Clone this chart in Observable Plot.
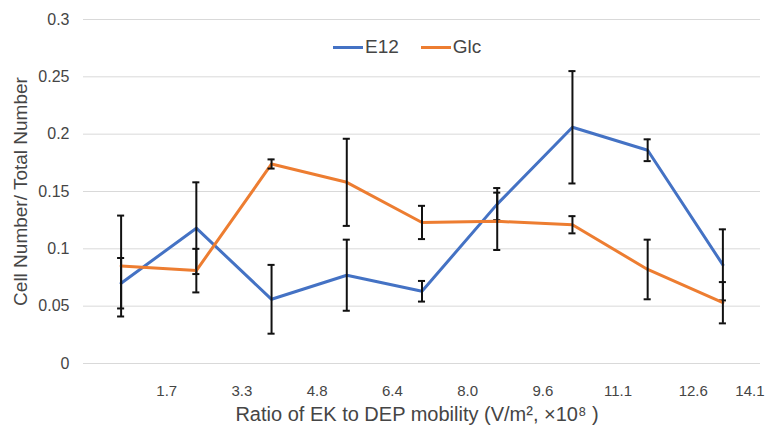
<!DOCTYPE html>
<html>
<head>
<meta charset="utf-8">
<script src="https://cdn.jsdelivr.net/npm/d3@7"></script>
<script src="https://cdn.jsdelivr.net/npm/@observablehq/plot@0.6"></script>
<style>
  html, body { margin: 0; padding: 0; background: #fff; }
  body { font-family: "Liberation Sans", Arial, sans-serif; }
  #wrap { position: relative; width: 776px; height: 433px; overflow: hidden; }
  #legend { position: absolute; top: 36px; left: 333px; display: flex; align-items: center;
            font-size: 19px; color: #454545; line-height: 22px; }
  .item { display: flex; align-items: center; margin-right: 22px; }
  .sw { width: 30px; height: 3px; margin-right: 2px; }
</style>
</head>
<body>
<div id="wrap"><div id="legend"></div></div>
<script>
// Tick labels (upper edge of each bin)
const binLabels = ["1.7", "3.3", "4.8", "6.4", "8.0", "9.6", "11.1", "12.6", "14.1"];
const seriesNames = ["E12", "Glc"];
const seriesColors = ["#4472C4", "#ED7D31"];
const e12Values = [0.070, 0.118, 0.056, 0.077, 0.063, 0.139, 0.206, 0.186, 0.086];
const e12Errors = [0.022, 0.040, 0.030, 0.031, 0.009, 0.014, 0.049, 0.0095, 0.031];
const glcValues = [0.085, 0.081, 0.174, 0.158, 0.123, 0.124, 0.121, 0.082, 0.053];
const glcErrors = [0.044, 0.019, 0.004, 0.038, 0.0145, 0.025, 0.0075, 0.026, 0.018];
const yTicks = [0, 0.05, 0.1, 0.15, 0.2, 0.25, 0.3];
const xTitle = "Ratio of EK to DEP mobility (V/m\u00B2, \u00D710\u2078 )";
const yTitle = "Cell Number/ Total Number";

const seriesData = [
  {name: seriesNames[0], values: e12Values, errors: e12Errors},
  {name: seriesNames[1], values: glcValues, errors: glcErrors}
];
const rows = seriesData.flatMap(s => s.values.map((v, i) => ({
  series: s.name, i, v, lo: v - s.errors[i], hi: v + s.errors[i]
})));

const textColor = "#454545";
const capHalf = 0.047;
const n = binLabels.length;
const tickPos = binLabels.map((_, i) => i + 0.5);

const seriesMarks = seriesNames.flatMap(name => {
  const d = rows.filter(r => r.series === name);
  return [
    Plot.line(d, {x: "i", y: "v", stroke: "series", strokeWidth: 3, strokeLinejoin: "round"}),
    Plot.ruleX(d, {x: "i", y1: "lo", y2: "hi", stroke: "#111", strokeWidth: 2}),
    Plot.ruleY(d, {y: "lo", x1: r => r.i - capHalf, x2: r => r.i + capHalf, stroke: "#111", strokeWidth: 2}),
    Plot.ruleY(d, {y: "hi", x1: r => r.i - capHalf, x2: r => r.i + capHalf, stroke: "#111", strokeWidth: 2})
  ];
});

const chart = Plot.plot({
  width: 776,
  height: 433,
  marginLeft: 83,
  marginRight: 16,
  marginTop: 19,
  marginBottom: 70,
  style: {fontFamily: '"Liberation Sans", Arial, sans-serif', background: "#fff"},
  x: {type: "linear", domain: [-0.5, n - 0.5]},
  y: {domain: [0, 0.3]},
  color: {domain: seriesNames, range: seriesColors},
  marks: [
    Plot.gridY(yTicks, {stroke: "#d9d9d9", strokeOpacity: 1, strokeWidth: 1}),
    Plot.axisY({ticks: yTicks, tickSize: 0, tickPadding: 14, fontSize: 16, fill: textColor,
                tickFormat: d => d === 0 ? "0" : String(+d.toFixed(2)), label: null}),
    Plot.axisX({ticks: tickPos.slice(0, n - 1), tickSize: 0, tickPadding: 22, fontSize: 15, fill: textColor,
                dx: 8, tickFormat: d => binLabels[Math.round(d - 0.5)], label: null}),
    Plot.axisX({ticks: tickPos.slice(n - 1), tickSize: 0, tickPadding: 22, fontSize: 15, fill: textColor,
                dx: 4, textAnchor: "end", tickFormat: d => binLabels[Math.round(d - 0.5)], label: null}),
    ...seriesMarks,
    // Titles
    Plot.text([xTitle], {frameAnchor: "bottom", dx: -5, dy: 57, fontSize: 20, fill: textColor}),
    Plot.text([yTitle], {frameAnchor: "left", textAnchor: "middle", dx: -63, rotate: -90, fontSize: 19, fill: textColor})
  ]
});
document.getElementById("wrap").prepend(chart);

const legend = document.getElementById("legend");
seriesNames.forEach((name, k) => {
  const item = document.createElement("div");
  item.className = "item";
  const sw = document.createElement("div");
  sw.className = "sw";
  sw.style.background = seriesColors[k];
  const label = document.createElement("span");
  label.textContent = name;
  item.append(sw, label);
  legend.append(item);
});
</script>
</body>
</html>
